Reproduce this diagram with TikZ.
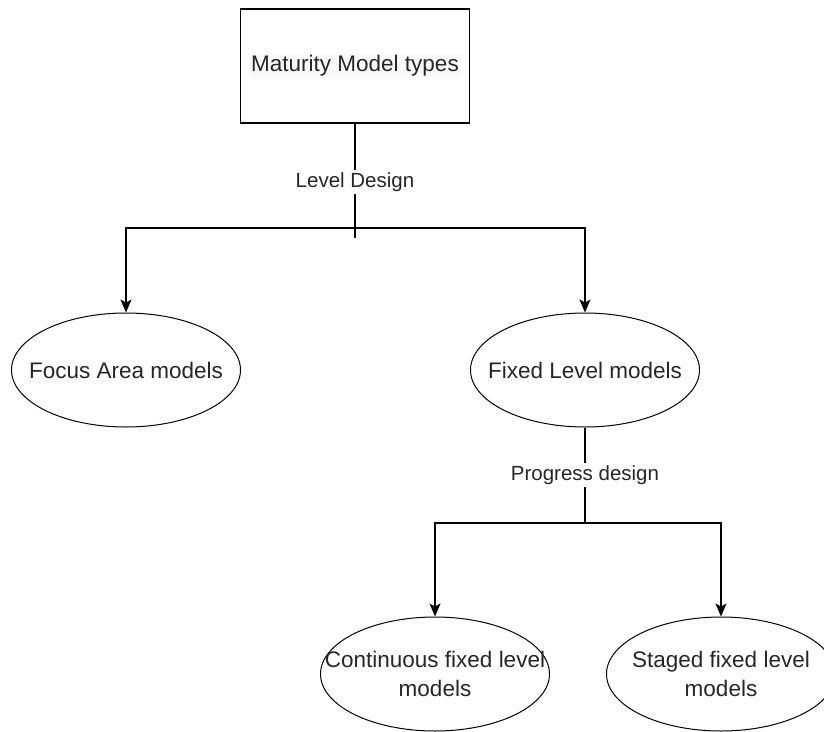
\documentclass[tikz,border=0pt]{standalone}
\usepackage{fontspec}
\setmainfont{Liberation Sans}
\usetikzlibrary{shapes.geometric,arrows.meta}
\definecolor{hl}{HTML}{F7F9FB}
\tikzset{
  box/.style={draw, line width=1.3pt, minimum width=229pt, minimum height=114pt, inner sep=0pt},
  oval/.style={draw, ellipse, line width=1pt, minimum width=229pt, minimum height=114pt, inner sep=0pt},
  txt/.style={font=\fontsize{22.5}{29}\selectfont, align=center, text=black!85, inner sep=0pt},
  lbl/.style={fill=white, font=\fontsize{20.5}{24}\selectfont, text=black!85, inner sep=2pt},
  conn/.style={line width=1.3pt},
  arr/.style={line width=1.3pt, -{Stealth[length=13pt, width=11pt, inset=3pt]}}
}
\begin{document}
\begin{tikzpicture}[x=1pt, y=-1pt]
\useasboundingbox (0,0) rectangle (824,731);
\clip (0,0) rectangle (824,731);
\node[box] (top) at (355,66) {};
\node[txt, fill=hl, inner sep=2pt] (toptxt) at (top.center) {Maturity Model types};
\node[oval, label={[txt]center:Focus Area models}] (focus) at (126,370) {};
\node[oval, label={[txt]center:Fixed Level models}] (fixed) at (585,370) {};
\node[oval, label={[txt]center:Continuous fixed level\\models}] (cont) at (435,674) {};
\node[oval, label={[txt]center:Staged fixed level\\models}] (staged) at (721,674) {};
\coordinate (j1) at (355,228);
\coordinate (j1end) at (355,238);
\coordinate (j2) at (585,523);
% level design connector
\draw[conn] (top.south) -- (j1end);
\node[lbl] (lvl) at (355,182) {Level Design};
\draw[arr] (j1) -| (focus.north);
\draw[arr] (j1) -| (fixed.north);
% progress design connector
\draw[conn] (fixed.south) -- (j2);
\node[lbl] (prog) at (585,475) {Progress design};
\draw[arr] (j2) -| (cont.north);
\draw[arr] (j2) -| (staged.north);
\end{tikzpicture}
\end{document}
